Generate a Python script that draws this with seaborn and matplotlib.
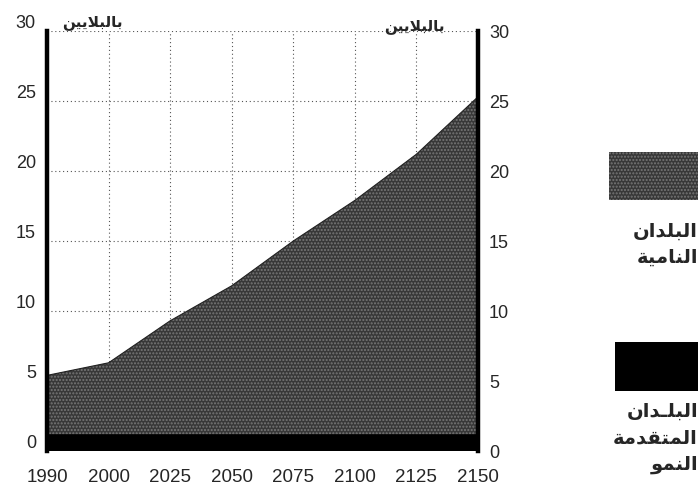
import numpy as np
import seaborn as sns
import matplotlib.pyplot as plt
from matplotlib.patches import Rectangle

# World population projection, billions
years = ['1990', '2000', '2025', '2050', '2075', '2100', '2125', '2150']
developed = [1.2, 1.2, 1.2, 1.2, 1.2, 1.2, 1.2, 1.2]
developing = [4.2, 5.1, 8.1, 10.6, 13.8, 16.7, 20.0, 24.1]
yticks = [0, 5, 10, 15, 20, 25, 30]

unit_label = 'بالبلايين'
label_developing = ['البلدان', 'النامية']
label_developed = ['البلـدان', 'المتقدمة', 'النمو']

# matplotlib has no Arabic shaping, so pick the presentation forms by hand
FORMS = {
    'ا': ('\uFE8D', '\uFE8E', None, None),
    'ب': ('\uFE8F', '\uFE90', '\uFE91', '\uFE92'),
    'ة': ('\uFE93', '\uFE94', None, None),
    'ت': ('\uFE95', '\uFE96', '\uFE97', '\uFE98'),
    'د': ('\uFEA9', '\uFEAA', None, None),
    'ق': ('\uFED5', '\uFED6', '\uFED7', '\uFED8'),
    'ل': ('\uFEDD', '\uFEDE', '\uFEDF', '\uFEE0'),
    'م': ('\uFEE1', '\uFEE2', '\uFEE3', '\uFEE4'),
    'ن': ('\uFEE5', '\uFEE6', '\uFEE7', '\uFEE8'),
    'و': ('\uFEED', '\uFEEE', None, None),
    'ي': ('\uFEF1', '\uFEF2', '\uFEF3', '\uFEF4'),
    'ـ': ('\u0640', '\u0640', '\u0640', '\u0640'),
}


def dual(c):
    return c in FORMS and FORMS[c][2] is not None


def shape(word):
    out = []
    i = 0
    while i < len(word):
        c = word[i]
        prev_joins = i > 0 and dual(word[i - 1])
        if c == 'ل' and i + 1 < len(word) and word[i + 1] == 'ا':
            out.append('\uFEFC' if prev_joins else '\uFEFB')
            i += 2
            continue
        next_joins = dual(c) and i + 1 < len(word) and word[i + 1] in FORMS
        f = FORMS[c]
        if prev_joins and next_joins:
            out.append(f[3])
        elif prev_joins:
            out.append(f[1])
        elif next_joins:
            out.append(f[2])
        else:
            out.append(f[0])
        i += 1
    return ''.join(reversed(out))


sns.set_style('white')
plt.rcParams['font.family'] = ['Liberation Sans', 'DejaVu Sans']

W, H = 699, 502
fig = plt.figure(figsize=(W / 100, H / 100), dpi=100)
ax = fig.add_axes([47 / W, 1 - 452 / H, (478 - 47) / W, (452 - 32) / H])

x = np.arange(len(years))
total = np.array(developed) + np.array(developing)
stipple = dict(facecolor='#383838', hatch='.....', edgecolor='#777777', linewidth=0)

ax.fill_between(x, 0, developed, color='black', linewidth=0, zorder=2)
ax.fill_between(x, developed, total, zorder=2, **stipple)
sns.lineplot(x=x, y=total, ax=ax, color='#222222', linewidth=0.8, zorder=3)

ax.set_xlim(0, len(years) - 1)
ax.set_ylim(0, 30)
ax.set_xticks(x)
ax.set_xticklabels(years, fontsize=13.5)
ax.set_yticks(yticks)
ax.set_yticklabels([str(v) for v in yticks], fontsize=13)
ax.grid(True, linestyle=(0, (1, 2.5)), color='#555555', linewidth=0.8)
ax.set_axisbelow(True)

for side in ['top', 'bottom']:
    ax.spines[side].set_visible(False)
for side in ['left', 'right']:
    ax.spines[side].set_linewidth(3.2)
    ax.spines[side].set_color('black')
    ax.spines[side].set_zorder(4)

ax.tick_params(axis='both', length=0)
ax.tick_params(axis='x', pad=12)
ax.tick_params(axis='y', labelleft=True, labelright=True, pad=8)
for t in ax.yaxis.get_major_ticks():
    t.label1.set_verticalalignment('bottom')

arab = dict(family='DejaVu Sans', fontweight='bold')
fig.text(92 / W, 1 - 22 / H, shape(unit_label), ha='center', va='center', fontsize=11, **arab)
fig.text(414 / W, 1 - 27 / H, shape(unit_label), ha='center', va='center', fontsize=11, **arab)

# legend on the right
fig.patches.append(Rectangle((609 / W, 1 - 201 / H), (698 - 609) / W, 48 / H,
                             transform=fig.transFigure, **stipple))
fig.patches.append(Rectangle((615 / W, 1 - 392 / H), (698 - 615) / W, 49 / H,
                             transform=fig.transFigure, facecolor='black', linewidth=0))

for k, word in enumerate(label_developing):
    fig.text(698 / W, 1 - (231 + 26 * k) / H, shape(word), ha='right', va='center',
             fontsize=14, **arab)
for k, word in enumerate(label_developed):
    fig.text(698 / W, 1 - (411 + 27 * k) / H, shape(word), ha='right', va='center',
             fontsize=14, **arab)

fig.savefig('out.png', dpi=100)
